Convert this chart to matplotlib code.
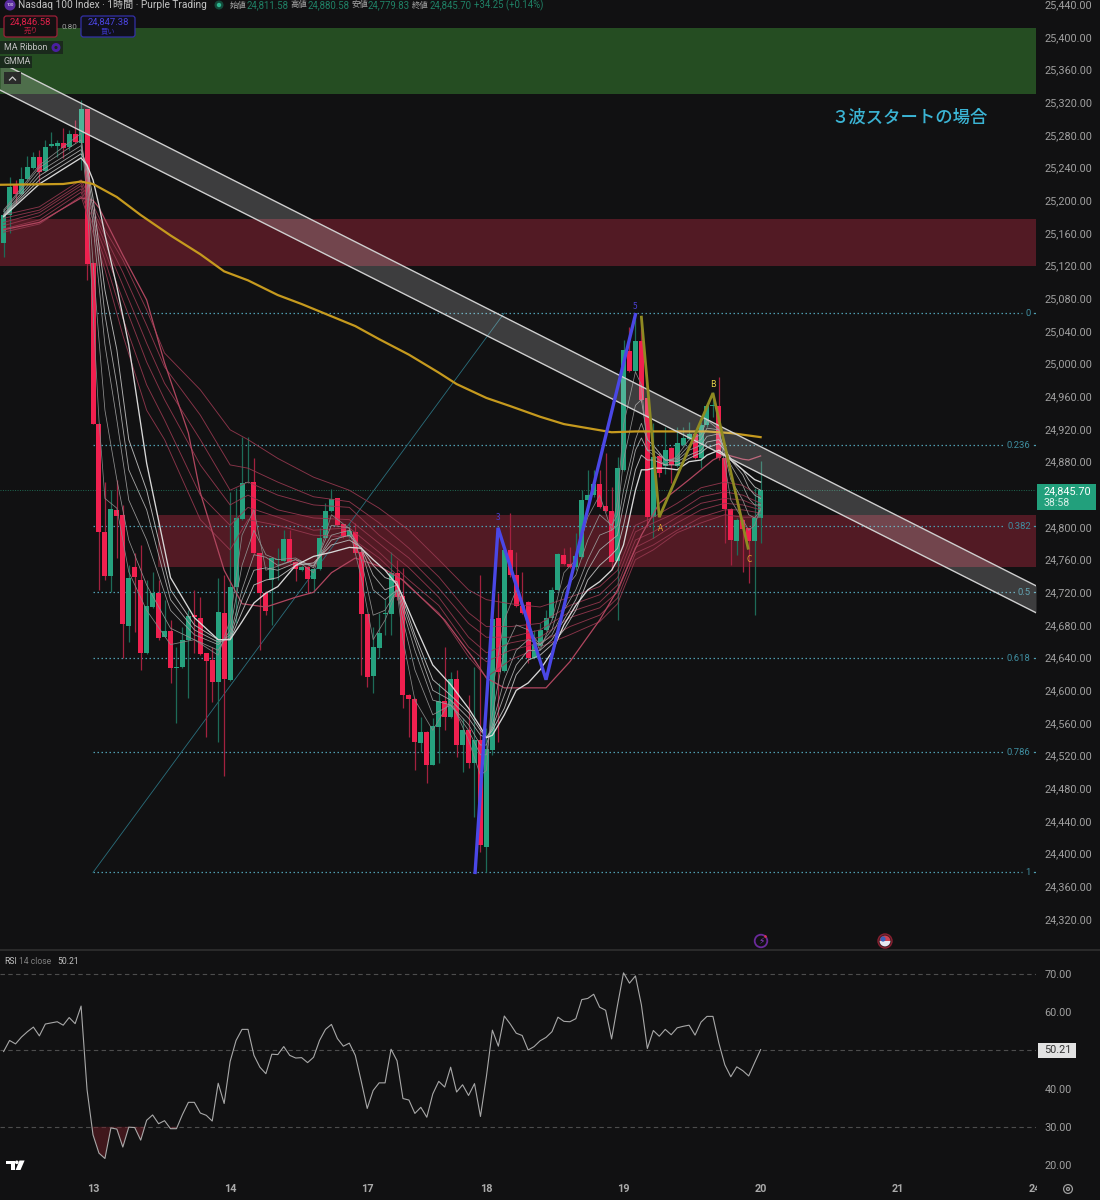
import matplotlib
matplotlib.use("Agg")
import matplotlib.pyplot as plt
from matplotlib.patches import Rectangle, FancyBboxPatch, Circle, Wedge, Polygon

# candles
opens = [25148,25182,25219,25208,25226,25240,25253,25236,25266,25266,
         25270,25265,25281,25270,25312,25123,24926,24794,24740,24821,
         24815,24679,24751,24735,24646,24702,24719,24665,24673,24627,
         24628,24662,24692,24689,24646,24637,24610,24695,24613,24726,
         24810,24854,24855,24768,24719,24735,24759,24758,24785,24757,
         24747,24751,24736,24748,24786,24820,24835,24804,24788,24794,
         24769,24693,24617,24652,24693,24693,24744,24715,24594,24589,
         24535,24549,24509,24555,24587,24567,24614,24533,24551,24511,
         24539,24408,24527,24689,24624,24772,24741,24703,24708,24640,
         24654,24674,24689,24723,24766,24755,24751,24763,24833,24839,
         24853,24826,24820,24758,24870,25015,24991,25028,24958,24812,
         24887,24875,24897,24875,24900,24908,24914,24885,24925,24948,
         24948,24885,24822,24783,24809,24799,24783,24811.58]
highs = [25191,25229,25225,25241,25254,25259,25262,25274,25284,25274,
         25289,25286,25298,25323,25312,25124,24927,24855,24845,24858,
         24827,24753,24768,24778,24735,24745,24735,24711,24686,24653,
         24678,24698,24723,24714,24646,24653,24738,24741,24843,24848,
         24910,24910,24885,24768,24722,24763,24774,24796,24796,24758,
         24753,24752,24750,24799,24829,24847,24836,24804,24805,24805,
         24770,24694,24678,24695,24712,24769,24760,24750,24595,24591,
         24567,24550,24566,24609,24653,24622,24625,24566,24594,24629,
         24741,24554,24723,24719,24776,24817,24769,24745,24709,24674,
         24682,24698,24727,24768,24774,24776,24793,24845,24870,24870,
         24870,24891,24849,24886,25029,25045,25062,25057,24958,24927,
         24890,24922,24898,24922,24922,24929,24916,24929,24952,24965,
         24984,24886,24823,24811,24811,24799,24848,24880.58]
lows = [25131,25160,25197,25207,25225,25238,25221,25235,25265,25253,
        25252,25262,25270,25237,25102,24926,24723,24735,24720,24762,
        24640,24659,24671,24625,24645,24701,24662,24665,24609,24560,
        24627,24591,24646,24643,24543,24586,24537,24495,24612,24682,
        24808,24854,24766,24649,24692,24680,24735,24757,24756,24734,
        24746,24719,24720,24747,24786,24818,24801,24786,24786,24767,
        24619,24604,24597,24640,24668,24668,24711,24578,24543,24502,
        24524,24486,24508,24511,24551,24566,24518,24500,24505,24445,
        24402,24377,24521,24537,24622,24739,24702,24694,24633,24639,
        24653,24673,24686,24721,24753,24750,24747,24762,24832,24837,
        24823,24818,24747,24686,24868,24990,24990,24953,24800,24786,
        24861,24865,24854,24873,24898,24906,24883,24872,24922,24935,
        24882,24780,24754,24766,24745,24731,24692,24779.83]
closes = [25182,25216,25208,25226,25241,25253,25235,25265,25269,25270,
          25264,25281,25271,25312,25122,24926,24794,24740,24822,24813,
          24681,24738,24739,24646,24703,24719,24664,24673,24627,24628,
          24662,24691,24690,24645,24636,24610,24696,24614,24726,24811,
          24854,24855,24768,24719,24697,24762,24760,24785,24757,24749,
          24751,24736,24749,24786,24820,24834,24802,24788,24795,24768,
          24693,24616,24653,24670,24695,24744,24714,24594,24589,24537,
          24549,24509,24556,24587,24567,24614,24533,24551,24511,24539,
          24411,24528,24687,24622,24772,24741,24703,24695,24640,24657,
          24674,24689,24723,24767,24755,24751,24765,24833,24839,24853,
          24825,24820,24757,24872,25017,24991,25028,24955,24812,24886,
          24866,24894,24876,24903,24909,24914,24885,24925,24948,24949,
          24885,24822,24784,24809,24798,24783,24811,24845.70]

# 200 ma, sampled where it bends
ma_idx = [-1,10,13,15,19,23,28,33,37,41,46,50,53,59,63,68,73,76,81,85,90,94,98,102,106,112,118,122,124,127]
ma_val = [25219,25220,25223,25220,25204,25182,25157,25134,25113,25102,25084,25073,25064,25046,25030,
          25011,24989,24975,24958,24948,24935,24926,24921,24916,24917,24917,24917,24915,24913,24910]

# GMMA short group, fastest first (last one is the bright white one)
short_idx = [0,6,13,14,15,16,17,19,21,24,28,32,36,38,40,42,44,46,49,52,55,58,60,62,64,66,67,69,72,75,78,
             80,81,82,84,86,88,90,92,94,96,98,100,102,103,104,106,107,108,109,111,113,115,117,118,120,121,122,124,125,126,127]
short_1 = [25188,25243,25282,25203,25064,24931,24835,24823,24745,24698,24656,24662,24643,24686,24790,24821,
           24747,24752,24760,24744,24815,24798,24738,24662,24686,24723,24662,24588,24551,24588,24539,24496,
           24502,24600,24686,24723,24680,24649,24686,24744,24760,24812,24839,24796,24833,24925,24990,24974,
           24894,24888,24876,24887,24907,24913,24931,24919,24876,24833,24809,24796,24802,24823]
short_2 = [25186,25240,25274,25225,25124,25029,24943,24858,24784,24729,24676,24662,24649,24674,24753,24796,
           24766,24760,24762,24750,24802,24799,24760,24692,24698,24723,24686,24625,24570,24582,24551,24521,
           24521,24570,24649,24680,24674,24656,24674,24723,24741,24784,24815,24802,24815,24882,24949,24956,
           24907,24900,24882,24884,24900,24907,24921,24919,24888,24858,24833,24815,24811,24821]
short_3 = [25183,25235,25267,25235,25170,25096,25023,24931,24833,24784,24698,24668,24656,24668,24723,24766,
           24763,24753,24760,24752,24790,24796,24772,24723,24711,24723,24698,24649,24588,24582,24558,24533,
           24533,24558,24613,24649,24662,24656,24668,24698,24723,24760,24790,24796,24802,24845,24907,24927,
           24907,24900,24882,24882,24894,24900,24911,24914,24894,24876,24851,24835,24827,24827]
short_4 = [25182,25230,25262,25240,25188,25124,25060,24974,24870,24821,24711,24674,24659,24664,24711,24747,
           24750,24747,24756,24753,24784,24790,24774,24741,24723,24729,24704,24662,24600,24588,24566,24545,
           24542,24554,24594,24631,24649,24649,24662,24686,24711,24747,24772,24784,24790,24827,24894,24909,
           24894,24894,24882,24880,24888,24894,24904,24907,24897,24882,24864,24848,24839,24835]
short_5 = [25181,25225,25257,25243,25203,25145,25090,25017,24907,24845,24723,24680,24662,24662,24696,24729,
           24735,24738,24753,24756,24778,24784,24775,24753,24738,24733,24711,24668,24613,24594,24573,24551,
           24542,24551,24578,24619,24637,24643,24656,24674,24698,24735,24753,24766,24774,24802,24870,24888,
           24882,24882,24876,24876,24884,24891,24897,24902,24894,24884,24870,24858,24849,24845]
short_6 = [25180,25220,25252,25243,25225,25194,25158,25094,25023,24878,24738,24689,24662,24662,24684,24707,
           24719,24727,24753,24764,24769,24775,24774,24760,24747,24729,24714,24680,24631,24607,24578,24555,
           24542,24545,24570,24600,24609,24625,24647,24680,24704,24723,24733,24747,24760,24778,24845,24870,
           24870,24872,24872,24870,24880,24882,24888,24894,24888,24882,24870,24864,24858,24855]

# long group, listed by position top to bottom
long_idx = [0,6,13,17,20,24,27,33,38,41,46,52,58,63,68,73,78,81,85,90,95,100,103,106,109,113,117,121,124,127]
long_1 = [25182,25192,25225,25164,25127,25066,25013,24968,24919,24907,24884,24861,24845,24823,24796,24760,
          24723,24711,24706,24702,24714,24727,24747,24802,24812,24829,24848,24855,24851,24837]
long_2 = [25178,25188,25221,25156,25112,25047,24996,24937,24876,24872,24855,24837,24831,24805,24774,24739,
          24695,24678,24678,24682,24704,24717,24738,24794,24805,24818,24837,24843,24839,24829]
long_3 = [25173,25185,25218,25148,25096,25025,24976,24907,24845,24855,24839,24827,24824,24790,24762,24725,
          24682,24665,24665,24674,24696,24708,24729,24784,24794,24812,24829,24835,24833,24824]
long_4 = [25169,25181,25214,25138,25078,25002,24956,24876,24827,24839,24821,24811,24809,24780,24750,24714,
          24665,24646,24658,24665,24689,24701,24720,24775,24786,24805,24821,24829,24827,24821]
long_5 = [25165,25176,25210,25127,25056,24974,24931,24839,24802,24824,24812,24796,24799,24769,24735,24704,
          24653,24635,24649,24658,24678,24692,24713,24768,24778,24796,24812,24821,24821,24817]
long_6 = [25161,25171,25205,25115,25035,24943,24907,24809,24772,24809,24802,24790,24788,24762,24727,24695,
          24641,24616,24637,24653,24668,24684,24706,24760,24772,24793,24805,24815,24812,24812]

# the brighter pink ma from the ribbon
pink_idx = [0,6,13,15,16,20,24,27,31,33,37,40,44,49,52,55,59,63,67,71,74,79,81,84,91,95,100,103,105,107,110,115,119,121,124,125,127]
pink_val = [25164,25173,25203,25200,25191,25133,25078,25001,24915,24842,24747,24706,24702,24714,24720,24744,
            24762,24752,24735,24707,24686,24637,24615,24603,24603,24635,24686,24723,24757,24790,24829,24858,24882,24889,24883,24882,24887]

# RSI 14, one value per candle
rsi_vals = [49.7,52.6,51.7,53.5,54.9,56.1,53.8,56.9,57.2,57.5,56.6,58.6,57.0,61.6,39.7,27.9,23.1,21.7,29.7,29.4,
            24.7,29.9,29.8,26.5,31.7,33.1,30.8,31.6,29.5,29.5,33.2,36.4,36.4,33.6,33.0,31.5,41.4,36.1,47.1,52.6,
            55.5,55.5,48.7,45.6,43.9,49.0,48.9,51.0,48.7,48.0,48.1,46.8,48.2,52.6,55.5,56.8,53.1,51.1,51.9,48.7,
            41.9,34.8,39.5,41.5,41.5,50.3,47.3,37.4,37.0,33.5,35.1,32.5,38.6,41.9,40.4,45.6,39.1,41.0,38.2,41.3,
            32.7,43.2,55.3,51.1,59.0,56.9,54.5,53.9,50.1,51.0,52.5,53.4,54.9,58.7,57.6,57.5,58.3,63.3,63.6,64.7,
            61.3,60.5,53.0,61.9,70.3,67.6,69.5,61.9,50.5,55.2,53.7,55.5,54.1,55.9,56.3,56.6,54.0,57.4,58.9,58.9,
            51.9,46.2,43.1,45.7,44.7,43.3,46.8,50.21]

# drawings on the chart
green_zone = [25330, 25411]
red_zone_top = [25120, 25177]
red_zone_low = [24751, 24815]
chan_x = [-0.6, 173.2]
chan_up = [25369, 24728]
chan_dn = [25335, 24695]
fib_names = ["0", "0.236", "0.382", "0.5", "0.618", "0.786", "1"]
fib_vals = [25062, 24900, 24801, 24720, 24639, 24524, 24377]
fib_ends = [170.9, 167.7, 167.7, 169.7, 167.7, 167.7, 170.9]
wave_idx = [79.1, 82.95, 91, 106]
wave_val = [24377, 24799, 24613, 25060]
abc_idx = [107, 110, 119, 124.9]
abc_val = [25057, 24812, 24964, 24774]
# 24,840 sits under the price badge and is not shown
price_ticks = [v for v in range(24320, 25441, 40) if v != 24840]
rsi_ticks = [20, 30, 40, 60, 70]
day_idx = [15, 38, 61, 81, 104, 127, 150, 173]
day_names = ["13", "14", "17", "18", "19", "20", "21", "24"]

BG = "#111112"
GREEN = "#26a27f"
RED = "#f0204f"
FIB = "#4f9db0"
MIXED = ["Roboto", "Noto Sans CJK JP"]
plt.rcParams["font.family"] = ["Noto Sans CJK JP", "DejaVu Sans"]

fig = plt.figure(figsize=(11, 12), dpi=100, facecolor=BG)
ax = fig.add_axes([0, 250 / 1200, 1036 / 1100, 950 / 1200], facecolor=BG)
rsi = fig.add_axes([0, 20 / 1200, 1036 / 1100, 230 / 1200], facecolor=BG)
ax.set_xlim(-0.604, 173.2)
ax.set_ylim(24282, 25445.3)
rsi.set_xlim(-0.604, 173.2)
rsi.set_ylim(16.07, 76.28)

ax.axhspan(green_zone[0], green_zone[1], color="#254d22", lw=0, zorder=1)
ax.axhspan(red_zone_top[0], red_zone_top[1], color="#521a24", lw=0, zorder=1)
ax.fill_between([25.9, 173.2], red_zone_low[0], red_zone_low[1], color="#521a24", lw=0, zorder=1)

# fib levels and the thin diagonal
for name, val, end in zip(fib_names, fib_vals, fib_ends):
    ax.plot([15, end], [val, val], color=FIB, lw=0.9, ls=(0, (1.2, 2)), zorder=2)
    ax.plot([172.8, 173.2], [val, val], color=FIB, lw=0.9, zorder=2)
    ax.text(172.3, val, name, color="#3f8ea0", fontsize=6.8, ha="right", va="center", family="Roboto", zorder=2)
ax.plot([15, 84], [fib_vals[-1], fib_vals[0]], color="#2a6f7d", lw=0.6, zorder=2)
ax.axhline(closes[-1], color="#1f6a52", lw=0.7, ls=(0, (1, 1.5)), zorder=2)

# candles
for i in range(len(opens)):
    col = GREEN if closes[i] >= opens[i] else RED
    wick = "#1d6b58" if closes[i] >= opens[i] else "#a3213f"
    ax.vlines(i, lows[i], highs[i], color=wick, lw=0.9, zorder=3)
    bot = min(opens[i], closes[i])
    ax.bar(i, max(abs(closes[i] - opens[i]), 1.2), bottom=bot, width=0.84, color=col, lw=0, zorder=3.1)

for line in [long_1, long_2, long_3, long_4, long_5, long_6]:
    ax.plot(long_idx, line, color="#96384f", lw=0.65, alpha=0.9, zorder=4)
ax.plot(pink_idx, pink_val, color="#b0465f", lw=0.9, zorder=4)
for line, c, w in [(short_1, "#858585", 0.55), (short_2, "#8f8f8f", 0.55), (short_3, "#9a9a9a", 0.55),
                   (short_4, "#a6a6a6", 0.6), (short_5, "#b4b4b4", 0.65), (short_6, "#d8d8d8", 0.95)]:
    ax.plot(short_idx, line, color=c, lw=w, zorder=4.2)
ax.plot(ma_idx, ma_val, color="#c69a1e", lw=1.6, zorder=4.4)

# descending channel
ax.fill_between(chan_x, chan_dn, chan_up, color="white", alpha=0.19, lw=0, zorder=5)
ax.plot(chan_x, chan_up, color="#cfcfcf", lw=1.0, zorder=5.1)
ax.plot(chan_x, chan_dn, color="#cfcfcf", lw=1.0, zorder=5.1)

# wave counts
ax.plot(wave_idx, wave_val, color="#4a47e6", lw=2.4, solid_joinstyle="miter", zorder=6)
ax.plot(abc_idx, abc_val, color="#8f8a22", lw=2.0, solid_joinstyle="miter", zorder=6)
ax.text(83, 24811, "3", color="#4a3fd0", fontsize=6, ha="center", va="center", zorder=6)
ax.text(106, 25070, "5", color="#4a3fd0", fontsize=6, ha="center", va="center", zorder=6)
ax.text(110.2, 24798, "A", color="#e0a030", fontsize=6, ha="center", va="center", zorder=6)
ax.text(119, 24975, "B", color="#e8d44a", fontsize=6, ha="center", va="center", zorder=6)
ax.text(125, 24760, "C", color="#e0a030", fontsize=6, ha="center", va="center", zorder=6)
ax.text(152, 25301, "３波スタートの場合", color="#3bb4d4", fontsize=12.5, fontweight="medium", ha="center", va="center", zorder=7)

ax.yaxis.tick_right()
ax.set_yticks(price_ticks)
ax.set_yticklabels([f"{v:,.2f}" for v in price_ticks], color="#a0a0a0", fontsize=7.8, family="Roboto")
ax.tick_params(axis="y", length=0, pad=6)
ax.set_xticks([])
for s in ax.spines.values():
    s.set_visible(False)

# RSI pane
for lvl in [70, 50, 30]:
    rsi.axhline(lvl, color="#4d4d4d", lw=0.8, ls=(0, (4, 3)), zorder=1)
rsi_x = list(range(len(rsi_vals)))
rsi.fill_between(rsi_x, rsi_vals, 30, where=[v < 30 for v in rsi_vals], interpolate=True, color="#7a1f2a", alpha=0.45, lw=0, zorder=2)
rsi.plot(rsi_x, rsi_vals, color="#a8a8a8", lw=0.8, zorder=3)
rsi.yaxis.tick_right()
rsi.set_yticks(rsi_ticks)
rsi.set_yticklabels([f"{v:.2f}" for v in rsi_ticks], color="#a0a0a0", fontsize=7.8, family="Roboto")
rsi.tick_params(axis="y", length=0, pad=6)
rsi.set_xticks(day_idx)
rsi.set_xticklabels(day_names, color="#aaaaaa", fontsize=7.8, fontweight="bold", family="Roboto")
rsi.tick_params(axis="x", length=0, pad=3)
for s in rsi.spines.values():
    s.set_visible(False)

# overlay in pixel coords for the header, legends and badges
ov = fig.add_axes([0, 0, 1, 1], facecolor="none")
ov.set_xlim(0, 1100)
ov.set_ylim(1200, 0)
ov.axis("off")

def label(x, y, s, c="#c8c8c8", size=7.6, ha="left", **kw):
    ov.text(x, y, s, color=c, fontsize=size, ha=ha, va="center", **kw)

ov.add_patch(Rectangle((0, 0), 1036, 14, color=BG, lw=0))
ov.add_patch(Rectangle((0, 949.4), 1100, 1.2, color="#2a2a2a", lw=0))
ov.add_patch(Circle((10, 5), 5.5, color="#5a2ca0", lw=0))
label(10, 5, "100", "white", 3.2, ha="center", family="Roboto")
label(18, 5, "Nasdaq 100 Index · 1時間 · Purple Trading", "#c4c4c4", 7.3, family=MIXED)
ov.add_patch(Circle((219, 5), 4.5, color="#124a3a", lw=0))
ov.add_patch(Circle((219, 5), 2.2, color="#2fb58f", lw=0))
teal = "#1f8065"
for x, name in [(230, "始値"), (290, "高値"), (352, "安値"), (412, "終値")]:
    label(x, 5, name, "#a8a8a8", 6.0)
for x, val in [(247, "24,811.58"), (308, "24,880.58"), (368, "24,779.83"), (430, "24,845.70")]:
    label(x, 5, val, teal, 6.9, family="Roboto")
label(473.5, 5, "+34.25 (+0.14%)", teal, 6.9, family="Roboto")

ov.add_patch(FancyBboxPatch((4, 16), 53, 21, boxstyle="round,pad=0,rounding_size=2.5", fc="#141012", ec="#9c1f38", lw=0.9))
label(30.5, 22, "24,846.58", "#e0204a", 6.8, ha="center", family="Roboto")
label(30.5, 31, "売り", "#c01c40", 5.2, ha="center")
label(69, 27, "0.80", "#a0a0a0", 5.8, ha="center", family="Roboto")
ov.add_patch(FancyBboxPatch((81, 16), 54, 21, boxstyle="round,pad=0,rounding_size=2.5", fc="#10101c", ec="#3330a8", lw=0.9))
label(108, 22, "24,847.38", "#4a44e0", 6.8, ha="center", family="Roboto")
label(108, 31, "買い", "#3a36c0", 5.2, ha="center")

ov.add_patch(Rectangle((0, 41), 63, 13, color="#1a2a1c", lw=0))
label(4, 47.5, "MA Ribbon", "#c0c0c0", 6.4, family="Roboto")
ov.add_patch(Circle((56, 47.5), 4.5, color="#4a1fa0", lw=0))
ov.add_patch(Circle((56, 47.5), 1.6, color="#1a2a1c", lw=0))
ov.add_patch(Rectangle((0, 56), 32, 12, color="#1a2a1c", lw=0))
label(4, 62, "GMMA", "#c0c0c0", 6.4, family="Roboto")
ov.add_patch(Rectangle((4, 72), 17, 12, color="#2a2c2a", lw=0))
ov.plot([9.5, 12.5, 15.5], [80, 77, 80], color="#d0d0d0", lw=0.9)

# price badge
ov.add_patch(Rectangle((1037, 484), 59, 26, color="#22a07c", lw=0))
label(1044, 491, "24,845.70", "white", 7.8, family="Roboto")
label(1044, 503, "38:58", "#d8f0e8", 7.6, family="Roboto")

# rsi text + badge
label(4, 961, "RSI", "#c0c0c0", 6.2, family="Roboto")
label(19, 961, "14 close", "#808080", 6.2, family="Roboto")
label(57, 961, "50.21", "#c0c0c0", 6.2, family="Roboto")
ov.add_patch(Rectangle((1037.5, 1043), 38, 14.5, color="#e2e2e2", lw=0))
label(1044, 1050.3, "50.21", "#333333", 7.8, family="Roboto")

# hide the clipped part of the last date
ov.add_patch(Rectangle((1037, 1181), 26, 17, color=BG, lw=0))

# tv logo, event icons and the settings gear
ov.add_patch(Polygon([(6.3, 1160.5), (14.5, 1160.5), (14.5, 1170), (10.5, 1170), (10.5, 1164), (6.3, 1164)], color="white", lw=0))
ov.add_patch(Circle((16.8, 1162.3), 1.8, color="white", lw=0))
ov.add_patch(Polygon([(19.5, 1160.5), (24.6, 1160.5), (20.5, 1170), (15.6, 1170)], color="white", lw=0))
ov.add_patch(Circle((761, 941), 6.3, fc="none", ec="#6a2a9a", lw=1.3))
ov.text(761, 941, "⚡", color="#8a40c8", fontsize=6.5, ha="center", va="center", family="DejaVu Sans")
ov.add_patch(Circle((765.5, 936.5), 1.3, color="#e03050", lw=0))
ov.add_patch(Circle((885, 941), 7, fc="#3a1a22", ec="#8a2030", lw=1.0))
ov.add_patch(Wedge((885, 941), 5.4, 0, 180, color="#e8e8f0", lw=0))
ov.add_patch(Wedge((885, 941), 5.4, 180, 360, color="#d04050", lw=0))
ov.add_patch(Circle((883, 939), 2.6, color="#3a60b8", lw=0))
ov.add_patch(Circle((1068, 1189), 4.4, fc="none", ec="#a0a0a0", lw=0.9))
ov.add_patch(Circle((1068, 1189), 1.5, fc="none", ec="#a0a0a0", lw=0.9))

fig.savefig("out.png", dpi=100, facecolor=BG)
